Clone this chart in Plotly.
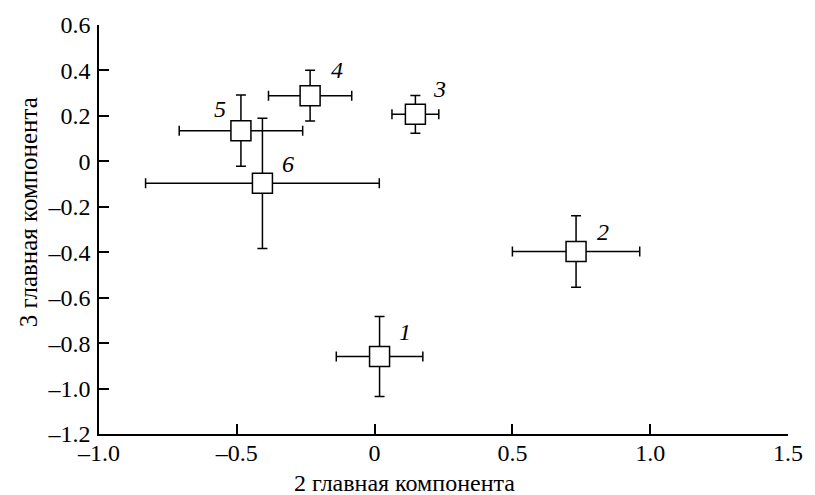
import plotly.graph_objects as go

# data
labels = ["1", "2", "3", "4", "5", "6"]
x_vals = [0.018, 0.731, 0.148, -0.234, -0.485, -0.407]
y_vals = [-0.859, -0.397, 0.207, 0.289, 0.135, -0.097]
x_err = [0.157, 0.231, 0.085, 0.151, 0.224, 0.424]
y_err = [0.176, 0.157, 0.083, 0.112, 0.157, 0.287]

x_tickvals = [-1.0, -0.5, 0, 0.5, 1.0, 1.5]
x_ticktext = ["–1.0", "–0.5", "0", "0.5", "1.0", "1.5"]
y_tickvals = [-1.2, -1.0, -0.8, -0.6, -0.4, -0.2, 0, 0.2, 0.4, 0.6]
y_ticktext = ["–1.2", "–1.0", "–0.8", "–0.6", "–0.4", "–0.2", "0", "0.2", "0.4", "0.6"]

x_title = "2 главная компонента"
y_title = "3 главная компонента"

# label offsets (pixels) — style
label_shift = [(25, 25), (27, 20), (24, 25), (27, 26), (-21, 22), (26, 19)]

FONT = "Liberation Serif"

fig = go.Figure()
fig.add_trace(go.Scatter(
    x=x_vals, y=y_vals, mode="markers",
    marker=dict(symbol="square", size=20, color="white",
                line=dict(color="black", width=1.5)),
    error_x=dict(type="data", array=x_err, color="black", thickness=1.5, width=5),
    error_y=dict(type="data", array=y_err, color="black", thickness=1.5, width=5),
    showlegend=False, cliponaxis=False,
))

for lab, xv, yv, (dx, dy) in zip(labels, x_vals, y_vals, label_shift):
    fig.add_annotation(x=xv, y=yv, xref="x", yref="y", text=lab, showarrow=False,
                       xshift=dx, yshift=dy,
                       font=dict(family=FONT, size=24, color="black", style="italic"))

fig.add_annotation(x=0.4435, y=-0.12, xref="paper", yref="paper", text=x_title,
                   showarrow=False, xanchor="center", yanchor="middle",
                   font=dict(family=FONT, size=24, color="black"))
fig.add_annotation(x=-0.1022, y=0.541, xref="paper", yref="paper", text=y_title,
                   showarrow=False, xanchor="center", yanchor="middle", textangle=-90,
                   font=dict(family=FONT, size=25, color="black"))

axis_common = dict(showgrid=False, zeroline=False, showline=True, linecolor="black",
                   linewidth=1.5, ticks="inside", ticklen=10, tickwidth=1.5,
                   tickcolor="black", mirror=False,
                   tickfont=dict(family=FONT, size=24, color="black"))

fig.update_xaxes(range=[-1.0, 1.5], tickvals=x_tickvals, ticktext=x_ticktext,
                 ticklabelstandoff=-4, **axis_common)
fig.update_yaxes(range=[-1.2, 0.6], tickvals=y_tickvals, ticktext=y_ticktext,
                 ticklabelstandoff=2, **axis_common)

fig.update_layout(
    width=815, height=495,
    margin=dict(l=99, r=17, t=20, b=61),
    paper_bgcolor="white", plot_bgcolor="white",
    font=dict(family=FONT, color="black"),
)

fig.write_html("out.html")
